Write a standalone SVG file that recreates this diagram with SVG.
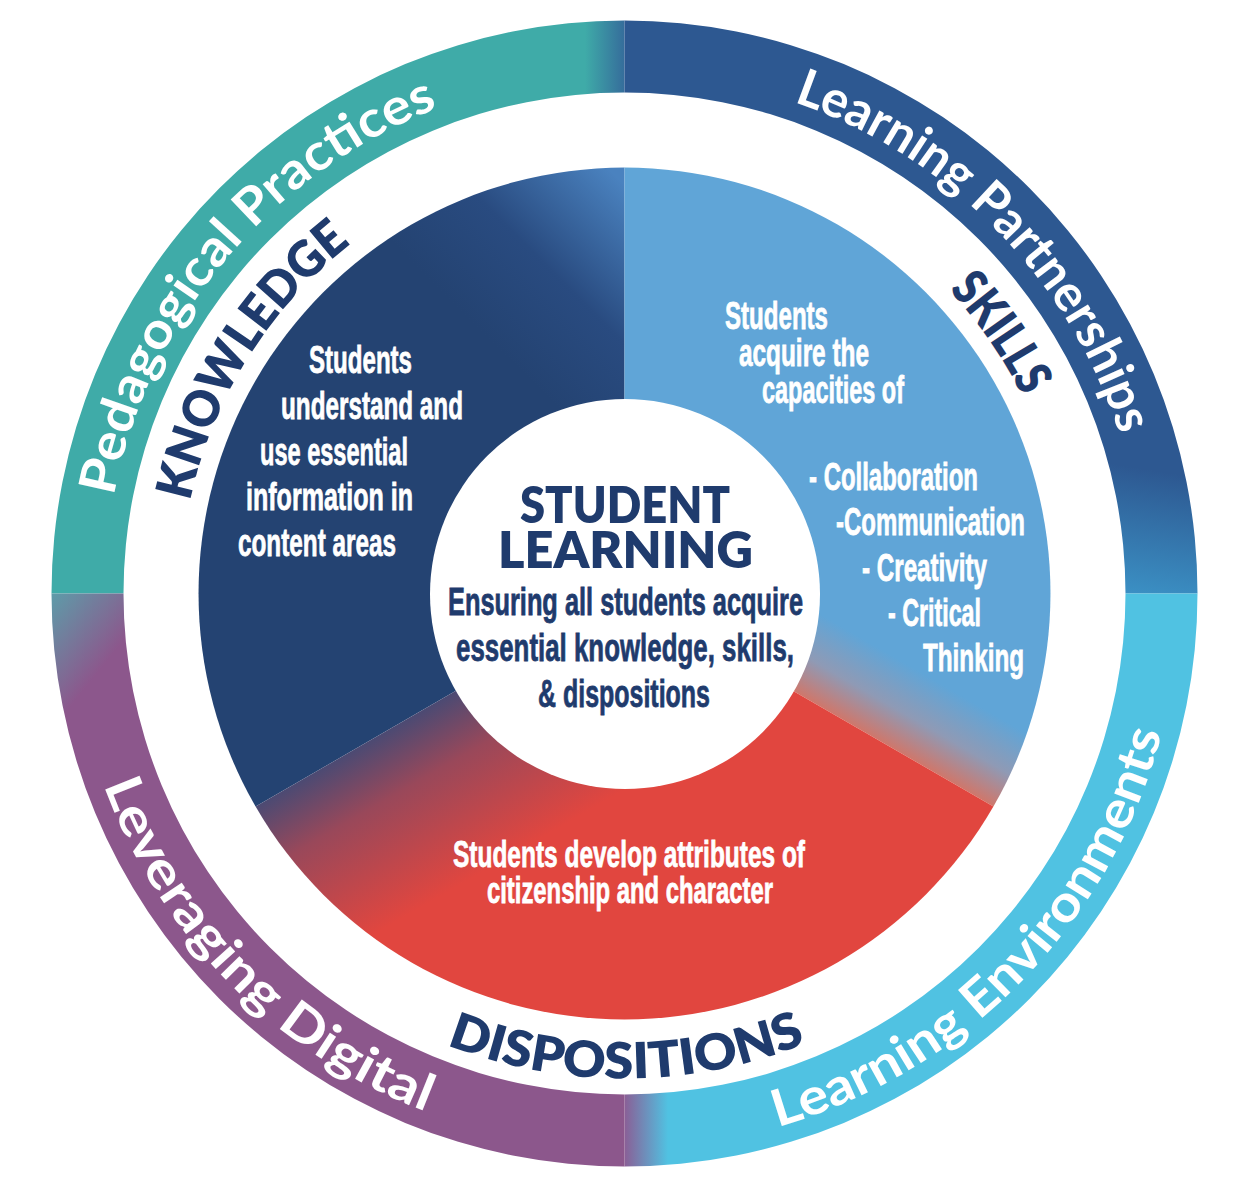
<svg xmlns="http://www.w3.org/2000/svg" xmlns:xlink="http://www.w3.org/1999/xlink" width="1242" height="1192" viewBox="0 0 1242 1192">
  <style>
    .ring-txt { font-family: "Lato", "Open Sans", "DejaVu Sans", sans-serif; font-weight: 700; font-size: 51px; fill: #ffffff; }
    .arc-title { font-family: "Lato", "Open Sans", "DejaVu Sans", sans-serif; font-weight: 800; font-size: 50px; fill: #1f3b6d; }
    .title { font-family: "Lato", "Open Sans", "DejaVu Sans", sans-serif; font-weight: 800; font-size: 51px; fill: #1f3b6d; }
    .cond { font-family: "Liberation Sans", Arial, sans-serif; font-weight: 700; font-size: 39px; stroke-width: 0.8px; }
    .cond-s { font-family: "Liberation Sans", Arial, sans-serif; font-weight: 700; font-size: 37px; stroke-width: 0.8px; }
    .w { fill: #ffffff; stroke: #ffffff; }
    .n { fill: #1f3b6d; stroke: #1f3b6d; }
  </style>
  <defs>
    <linearGradient id="gTeal" gradientUnits="userSpaceOnUse" x1="585" y1="0" x2="625" y2="0">
      <stop offset="0" stop-color="#3faba8"/>
      <stop offset="1" stop-color="#356c9b"/>
    </linearGradient>
    <linearGradient id="gBlue" gradientUnits="userSpaceOnUse" x1="1150" y1="470" x2="1130" y2="594">
      <stop offset="0" stop-color="#2d5891"/>
      <stop offset="1" stop-color="#3b90c4"/>
    </linearGradient>
    <linearGradient id="gCyan" gradientUnits="userSpaceOnUse" x1="668" y1="0" x2="624.5" y2="0">
      <stop offset="0" stop-color="#50c2e2"/>
      <stop offset="1" stop-color="#8a5f96"/>
    </linearGradient>
    <linearGradient id="gPurple" gradientUnits="userSpaceOnUse" x1="120" y1="645" x2="55" y2="593">
      <stop offset="0" stop-color="#8c578c"/>
      <stop offset="1" stop-color="#5f9aa8"/>
    </linearGradient>
    <linearGradient id="gKnow" gradientUnits="userSpaceOnUse" x1="480" y1="330" x2="625" y2="185">
      <stop offset="0" stop-color="#244372"/>
      <stop offset="0.45" stop-color="#294b80"/>
      <stop offset="1" stop-color="#4a82bf"/>
    </linearGradient>
    <linearGradient id="gSkill" gradientUnits="userSpaceOnUse" x1="884.3" y1="743.5" x2="924.3" y2="674.2">
      <stop offset="0" stop-color="#cf776b"/>
      <stop offset="0.45" stop-color="#8f9ab5"/>
      <stop offset="1" stop-color="#60a5d7"/>
    </linearGradient>
    <linearGradient id="gDisp" gradientUnits="userSpaceOnUse" x1="364.7" y1="743.5" x2="449.7" y2="890.7">
      <stop offset="0" stop-color="#4b4a73"/>
      <stop offset="0.35" stop-color="#99485a"/>
      <stop offset="1" stop-color="#e1463f"/>
    </linearGradient>
    <path id="pPed" d="M113.7,496.1 A520,520 0 0 1 534.2,81.4"/>
    <path id="pPart" d="M793.8,101.8 A520,520 0 0 1 1136.6,503.2"/>
    <path id="pEnv" d="M777.5,1127 A555,555 0 0 0 1177.4,641.9"/>
    <path id="pDig" d="M103.6,785.1 A555,555 0 0 0 528.1,1140.1"/>
    <path id="pKnow" d="M190.2,501.2 A444,444 0 0 1 436.9,191.1"/>
    <path id="pSkill" d="M948.8,290.2 A444,444 0 0 1 1061.8,516.4"/>
    <path id="pDisp" d="M446.7,1044.8 A485,485 0 0 0 902.7,990.8"/>
  </defs>

  <rect x="0" y="0" width="1242" height="1192" fill="#ffffff"/>

  <g id="outer-ring">
    <g id="ring-pedagogical-practices">
      <path d="M51.5,593.5 A573,573 0 0 1 624.5,20.5 L624.5,92.5 A501,501 0 0 0 123.5,593.5 Z" fill="url(#gTeal)"/>
      <text class="ring-txt"><textPath href="#pPed" textLength="528" lengthAdjust="spacingAndGlyphs">Pedagogical Practices</textPath></text>
    </g>
    <g id="ring-learning-partnerships">
      <path d="M624.5,20.5 A573,573 0 0 1 1197.5,593.5 L1125.5,593.5 A501,501 0 0 0 624.5,92.5 Z" fill="url(#gBlue)"/>
      <text class="ring-txt"><textPath href="#pPart" textLength="483" lengthAdjust="spacingAndGlyphs">Learning Partnerships</textPath></text>
    </g>
    <g id="ring-learning-environments">
      <path d="M1197.5,593.5 A573,573 0 0 1 624.5,1166.5 L624.5,1094.5 A501,501 0 0 0 1125.5,593.5 Z" fill="url(#gCyan)"/>
      <text class="ring-txt"><textPath href="#pEnv" textLength="576" lengthAdjust="spacingAndGlyphs">Learning Environments</textPath></text>
    </g>
    <g id="ring-leveraging-digital">
      <path d="M624.5,1166.5 A573,573 0 0 1 51.5,593.5 L123.5,593.5 A501,501 0 0 0 624.5,1094.5 Z" fill="url(#gPurple)"/>
      <text class="ring-txt"><textPath href="#pDig" textLength="473" lengthAdjust="spacingAndGlyphs">Leveraging Digital</textPath></text>
    </g>
  </g>

  <g id="knowledge">
    <path d="M624.5,593.5 L255.6,806.5 A426,426 0 0 1 624.5,167.5 Z" fill="url(#gKnow)"/>
    <text class="arc-title"><textPath href="#pKnow" textLength="310" lengthAdjust="spacingAndGlyphs">KNOWLEDGE</textPath></text>
    <g class="cond w">
      <text x="309" y="373" textLength="103" lengthAdjust="spacingAndGlyphs">Students</text>
      <text x="281" y="419" textLength="182" lengthAdjust="spacingAndGlyphs">understand and</text>
      <text x="260" y="465" textLength="148" lengthAdjust="spacingAndGlyphs">use essential</text>
      <text x="246" y="510" textLength="167" lengthAdjust="spacingAndGlyphs">information in</text>
      <text x="238" y="556" textLength="158" lengthAdjust="spacingAndGlyphs">content areas</text>
    </g>
  </g>

  <g id="skills">
    <path d="M624.5,593.5 L624.5,167.5 A426,426 0 0 1 993.4,806.5 Z" fill="url(#gSkill)"/>
    <text class="arc-title"><textPath href="#pSkill" textLength="130" lengthAdjust="spacingAndGlyphs">SKILLS</textPath></text>
    <g class="cond w">
      <text x="725" y="329" textLength="103" lengthAdjust="spacingAndGlyphs">Students</text>
      <text x="739" y="366" textLength="130" lengthAdjust="spacingAndGlyphs">acquire the</text>
      <text x="762" y="403" textLength="142" lengthAdjust="spacingAndGlyphs">capacities of</text>
      <text x="809" y="490" textLength="169" lengthAdjust="spacingAndGlyphs">- Collaboration</text>
      <text x="836" y="535" textLength="189" lengthAdjust="spacingAndGlyphs">-Communication</text>
      <text x="862" y="581" textLength="125" lengthAdjust="spacingAndGlyphs">- Creativity</text>
      <text x="888" y="626" textLength="93" lengthAdjust="spacingAndGlyphs">- Critical</text>
      <text x="923" y="671" textLength="101" lengthAdjust="spacingAndGlyphs">Thinking</text>
    </g>
  </g>

  <g id="dispositions">
    <path d="M624.5,593.5 L993.4,806.5 A426,426 0 0 1 255.6,806.5 Z" fill="url(#gDisp)"/>
    <text class="arc-title"><textPath href="#pDisp" textLength="368" lengthAdjust="spacingAndGlyphs">DISPOSITIONS</textPath></text>
    <g class="cond-s w">
      <text x="453" y="867" textLength="352" lengthAdjust="spacingAndGlyphs">Students develop attributes of</text>
      <text x="487" y="903" textLength="286" lengthAdjust="spacingAndGlyphs">citizenship and character</text>
    </g>
  </g>

  <g id="student-learning">
    <circle cx="625" cy="594" r="195" fill="#ffffff"/>
    <text class="title" x="520" y="523" textLength="210" lengthAdjust="spacingAndGlyphs">STUDENT</text>
    <text class="title" x="498" y="568" textLength="255" lengthAdjust="spacingAndGlyphs">LEARNING</text>
    <g class="cond n">
      <text x="448" y="615" textLength="355" lengthAdjust="spacingAndGlyphs">Ensuring all students acquire</text>
      <text x="456" y="661" textLength="338" lengthAdjust="spacingAndGlyphs">essential knowledge, skills,</text>
      <text x="538" y="707" textLength="172" lengthAdjust="spacingAndGlyphs">&amp; dispositions</text>
    </g>
  </g>

  <g id="connectors"/>
</svg>
